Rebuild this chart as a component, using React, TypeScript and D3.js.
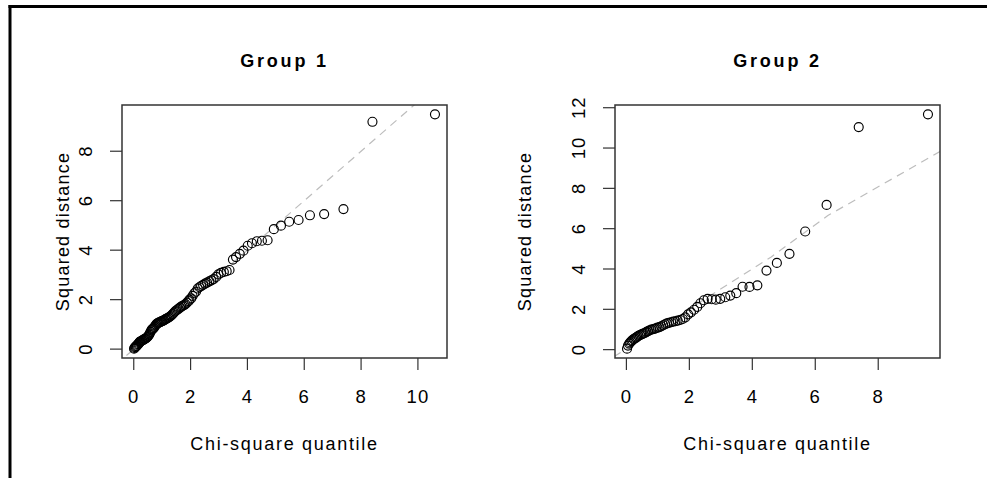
import React from 'react';
import * as d3 from 'd3';

// chi-square quantiles vs squared Mahalanobis distance
const group1Quantile = [
  0.01, 0.03, 0.05, 0.07, 0.09, 0.11, 0.13, 0.16, 0.18, 0.20, 0.22, 0.24, 0.27, 0.29, 0.31, 0.34, 0.36, 0.38, 0.41, 0.43,
  0.46, 0.48, 0.51, 0.54, 0.56, 0.59, 0.62, 0.64, 0.67, 0.70, 0.73, 0.76, 0.79, 0.82, 0.85, 0.88, 0.91, 0.94, 0.97, 1.00,
  1.04, 1.07, 1.11, 1.14, 1.18, 1.22, 1.25, 1.29, 1.33, 1.37, 1.41, 1.45, 1.49, 1.54, 1.58, 1.63, 1.67, 1.72, 1.77, 1.82,
  1.87, 1.93, 1.96, 2.02, 2.07, 2.13, 2.19, 2.25, 2.31, 2.37, 2.44, 2.51, 2.58, 2.66, 2.73, 2.81, 2.90, 2.98, 3.07, 3.17,
  3.27, 3.37, 3.49, 3.60, 3.73, 3.86, 4.01, 4.16, 4.33, 4.51, 4.71, 4.93, 5.18, 5.47, 5.80, 6.20, 6.70, 7.38, 8.40, 10.60,
];
const group1Distance = [
  0.02, 0.05, 0.08, 0.10, 0.12, 0.14, 0.18, 0.20, 0.24, 0.27, 0.30, 0.31, 0.33, 0.35, 0.36, 0.37, 0.40, 0.41, 0.42, 0.44,
  0.47, 0.49, 0.53, 0.58, 0.63, 0.70, 0.76, 0.80, 0.82, 0.85, 0.90, 0.95, 1.00, 1.03, 1.05, 1.07, 1.08, 1.10, 1.12, 1.13,
  1.15, 1.17, 1.20, 1.22, 1.25, 1.27, 1.30, 1.33, 1.37, 1.42, 1.47, 1.52, 1.56, 1.60, 1.64, 1.68, 1.72, 1.75, 1.78, 1.82,
  1.88, 1.94, 2.00, 2.05, 2.15, 2.26, 2.32, 2.45, 2.50, 2.55, 2.60, 2.65, 2.69, 2.74, 2.78, 2.83, 2.92, 3.02, 3.08, 3.12,
  3.15, 3.20, 3.62, 3.72, 3.85, 3.98, 4.18, 4.28, 4.36, 4.38, 4.40, 4.85, 4.99, 5.15, 5.22, 5.41, 5.46, 5.66, 9.19, 9.49,
];
const group1RefX = [-1, 12];
const group1RefY = [-1, 12];

const group2Quantile = [
  0.02, 0.05, 0.09, 0.12, 0.16, 0.19, 0.23, 0.27, 0.31, 0.34, 0.38, 0.43, 0.47, 0.51, 0.55, 0.60, 0.64, 0.69, 0.74, 0.79,
  0.84, 0.89, 0.94, 0.99, 1.05, 1.11, 1.17, 1.23, 1.29, 1.35, 1.42, 1.49, 1.56, 1.63, 1.71, 1.79, 1.87, 1.96, 2.05, 2.15,
  2.25, 2.35, 2.46, 2.58, 2.71, 2.84, 2.98, 3.14, 3.30, 3.49, 3.69, 3.91, 4.16, 4.45, 4.78, 5.18, 5.68, 6.36, 7.38, 9.58,
];
const group2Distance = [
  0.05, 0.20, 0.30, 0.36, 0.42, 0.47, 0.52, 0.56, 0.60, 0.64, 0.68, 0.72, 0.75, 0.78, 0.80, 0.84, 0.88, 0.92, 0.96, 0.99,
  1.01, 1.03, 1.06, 1.09, 1.12, 1.16, 1.21, 1.26, 1.30, 1.33, 1.36, 1.39, 1.41, 1.44, 1.47, 1.52, 1.60, 1.75, 1.85, 1.98,
  2.12, 2.30, 2.45, 2.52, 2.50, 2.48, 2.52, 2.60, 2.68, 2.80, 3.12, 3.11, 3.19, 3.92, 4.30, 4.75, 5.86, 7.18, 11.04, 11.67,
];
const group2RefX = [-0.4, 4.6, 6.4, 10.1];
const group2RefY = [-0.35, 4.6, 6.65, 9.95];

const group1XTicks = [0, 2, 4, 6, 8, 10];
const group1YTicks = [0, 2, 4, 6, 8];
const group2XTicks = [0, 2, 4, 6, 8];
const group2YTicks = [0, 2, 4, 6, 8, 10, 12];

const titles = ['Group 1', 'Group 2'];
const xLabel = 'Chi-square quantile';
const yLabel = 'Squared distance';

const W = 987;
const H = 478;
const FONT = '"Liberation Sans", Arial, Helvetica, sans-serif';

// R style 4% padding around the data range
const padded = (vals: number[]): [number, number] => {
  const [lo, hi] = d3.extent(vals) as [number, number];
  const d = (hi - lo) * 0.04;
  return [lo - d, hi + d];
};

type PanelProps = {
  id: string;
  left: number;
  title: string;
  xs: number[];
  ys: number[];
  refX: number[];
  refY: number[];
  xTicks: number[];
  yTicks: number[];
  yLabelX: number;
};

const Panel = ({ id, left, title, xs, ys, refX, refY, xTicks, yTicks, yLabelX }: PanelProps) => {
  const top = 105;
  const bottom = 358;
  const right = left + 325;

  const x = d3.scaleLinear().domain(padded(xs)).range([left, right]);
  const y = d3.scaleLinear().domain(padded(ys)).range([bottom, top]);

  const refLine = d3
    .line<number>()
    .x((d) => x(d))
    .y((_, i) => y(refY[i]))(refX);

  const cx = (left + right) / 2;
  const cy = (top + bottom) / 2;

  return (
    <g>
      <defs>
        <clipPath id={id}>
          <rect x={left} y={top} width={right - left} height={bottom - top} />
        </clipPath>
      </defs>

      <text x={cx} y={67} textAnchor="middle" fontFamily={FONT} fontWeight="bold" fontSize={18} letterSpacing={2.8}>
        {title}
      </text>

      <path d={refLine || ''} fill="none" stroke="#bdbdbd" strokeWidth={1.2} strokeDasharray="8,6" clipPath={`url(#${id})`} />

      {xs.map((v, i) => (
        <circle key={i} cx={x(v)} cy={y(ys[i])} r={4.5} fill="none" stroke="#000" strokeWidth={1.15} />
      ))}

      <rect x={left} y={top} width={right - left} height={bottom - top} fill="none" stroke="#333" strokeWidth={1.5} />

      {xTicks.map((t) => (
        <g key={'x' + t}>
          <line x1={x(t)} x2={x(t)} y1={bottom} y2={bottom + 12} stroke="#333" strokeWidth={1.2} />
          <text x={x(t)} y={403} textAnchor="middle" fontFamily={FONT} fontSize={18.5} letterSpacing={1}>
            {t}
          </text>
        </g>
      ))}

      {yTicks.map((t) => (
        <g key={'y' + t}>
          <line x1={left - 12} x2={left} y1={y(t)} y2={y(t)} stroke="#333" strokeWidth={1.2} />
          <text
            transform={`translate(${left - 30},${y(t)}) rotate(-90)`}
            textAnchor="middle"
            fontFamily={FONT}
            fontSize={18.5}
            letterSpacing={1}
          >
            {t}
          </text>
        </g>
      ))}

      <text x={cx} y={450} textAnchor="middle" fontFamily={FONT} fontSize={18} letterSpacing={1.7}>
        {xLabel}
      </text>
      <text
        transform={`translate(${yLabelX},${cy}) rotate(-90)`}
        textAnchor="middle"
        fontFamily={FONT}
        fontSize={18}
        letterSpacing={1.2}
      >
        {yLabel}
      </text>
    </g>
  );
};

export default function App() {
  return (
    <svg
      width={W}
      height={H}
      style={{ position: 'absolute', left: 0, top: 0, background: '#fff' }}
    >
      <rect width={W} height={H} fill="#fff" />
      <line x1={8.5} x2={W} y1={6.5} y2={6.5} stroke="#000" strokeWidth={3} />
      <line x1={10} x2={10} y1={5} y2={H} stroke="#000" strokeWidth={3} />

      <Panel
        id="clip1"
        left={122}
        title={titles[0]}
        xs={group1Quantile}
        ys={group1Distance}
        refX={group1RefX}
        refY={group1RefY}
        xTicks={group1XTicks}
        yTicks={group1YTicks}
        yLabelX={69}
      />
      <Panel
        id="clip2"
        left={615}
        title={titles[1]}
        xs={group2Quantile}
        ys={group2Distance}
        refX={group2RefX}
        refY={group2RefY}
        xTicks={group2XTicks}
        yTicks={group2YTicks}
        yLabelX={531}
      />
    </svg>
  );
}
